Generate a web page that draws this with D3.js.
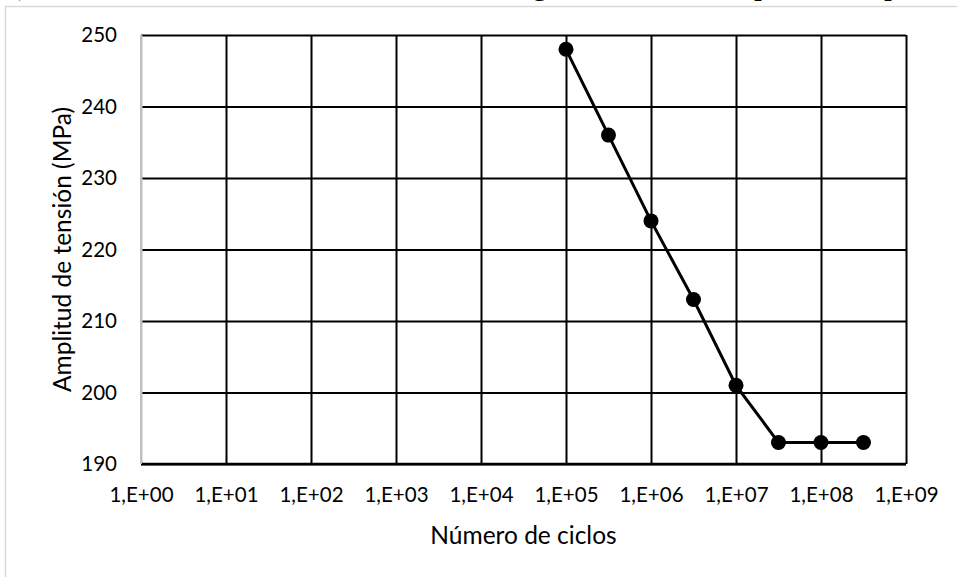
<!DOCTYPE html>
<html>
<head>
<meta charset="utf-8">
<script src="https://cdn.jsdelivr.net/npm/d3@7"></script>
<style>
  html, body { margin: 0; padding: 0; background: #fff; }
  svg { display: block; }
  .tick_txt { font-family: Lato, "Open Sans", sans-serif; font-size: 20.5px; fill: #000; }
  .title_txt { font-family: Lato, "Open Sans", sans-serif; font-size: 24.5px; fill: #000; }
  .doc_txt { font-family: "Liberation Serif", "DejaVu Serif", serif; font-size: 32px; fill: #000; }
</style>
</head>
<body>
<svg id="chart"></svg>
<script>
// board size
var svg_w = 957, svg_h = 577;
var pad_left = 141, pad_right = 51, pad_top = 35, pad_bottom = 113;

// data
var cycles = [1e5, 3.16e5, 1e6, 3.16e6, 1e7, 3.16e7, 1e8, 3.16e8];
var stress = [248, 236, 224, 213, 201, 193, 193, 193];

// ticks
var x_ticks = [1e0, 1e1, 1e2, 1e3, 1e4, 1e5, 1e6, 1e7, 1e8, 1e9];
var x_tick_labels = ["1,E+00", "1,E+01", "1,E+02", "1,E+03", "1,E+04",
                     "1,E+05", "1,E+06", "1,E+07", "1,E+08", "1,E+09"];
var y_ticks = [190, 200, 210, 220, 230, 240, 250];

var x_title = "Número de ciclos";
var y_title = "Amplitud de tensión (MPa)";

var svg = d3.select("#chart").attr("width", svg_w).attr("height", svg_h);

// bits of the document text cut off above the chart
var doc_bits = [{x: 18, t: "),"}, {x: 532, t: "g"}, {x: 738, t: ", p"}, {x: 884, t: "p"}];
svg.append("g").selectAll("text").data(doc_bits).enter()
  .append("text").attr("class", "doc_txt")
  .attr("x", function(d){ return d.x; }).attr("y", -6)
  .text(function(d){ return d.t; });

// chart area border (Excel style)
svg.append("rect").attr("x", 5.5).attr("y", 6.5)
  .attr("width", svg_w + 20).attr("height", svg_h + 20)
  .attr("fill", "none").attr("stroke", "#d9d9d9").attr("stroke-width", 1.5);

var x_scale = d3.scaleLog().domain([1e0, 1e9]).range([pad_left, svg_w - pad_right]);
var y_scale = d3.scaleLinear().domain([190, 250]).range([svg_h - pad_bottom, pad_top]);

// y grid + labels
var y_axis = d3.axisLeft(y_scale).tickValues(y_ticks)
  .tickSize(-(svg_w - pad_left - pad_right)).tickPadding(24)
  .tickFormat(d3.format("d"));
var yg = svg.append("g").attr("id", "y_axis")
  .attr("transform", "translate(" + pad_left + ",0)").call(y_axis);
yg.select(".domain").remove();
yg.selectAll(".tick line").attr("stroke", "#000").attr("stroke-width", 2);
yg.selectAll(".tick text").attr("class", "tick_txt").attr("font-size", null).attr("font-family", null);

// x grid + labels
var x_axis = d3.axisBottom(x_scale).tickValues(x_ticks)
  .tickSize(-(svg_h - pad_top - pad_bottom)).tickPadding(23)
  .tickFormat(function(d, i){ return x_tick_labels[i]; });
var xg = svg.append("g").attr("class", "x_axis")
  .attr("transform", "translate(0," + (svg_h - pad_bottom) + ")").call(x_axis);
xg.select(".domain").remove();
xg.selectAll(".tick line").attr("stroke", "#000").attr("stroke-width", 2);
xg.selectAll(".tick text").attr("class", "tick_txt").attr("font-size", null).attr("font-family", null);
// first vertical line is the y axis: grey in the original
xg.selectAll(".tick line").filter(function(d){ return d === 1e0; })
  .attr("stroke", "#bfbfbf");
// bottom axis line
svg.append("line")
  .attr("x1", x_scale(1e0)).attr("x2", x_scale(1e9))
  .attr("y1", y_scale(190)).attr("y2", y_scale(190))
  .attr("stroke", "#000").attr("stroke-width", 2.5);
svg.append("line")
  .attr("x1", x_scale(1e0)).attr("x2", x_scale(1e0))
  .attr("y1", y_scale(250)).attr("y2", y_scale(190))
  .attr("stroke", "#bfbfbf").attr("stroke-width", 2);

// series
var pts = cycles.map(function(c, i){ return {x: c, y: stress[i]}; });
var line = d3.line().x(function(d){ return x_scale(d.x); }).y(function(d){ return y_scale(d.y); });
svg.append("path").datum(pts).attr("d", line)
  .attr("fill", "none").attr("stroke", "#000").attr("stroke-width", 3);
svg.append("g").selectAll("circle").data(pts).enter()
  .append("circle")
  .attr("cx", function(d){ return x_scale(d.x); })
  .attr("cy", function(d){ return y_scale(d.y); })
  .attr("r", 7.5).attr("fill", "#000");

// titles
svg.append("text").attr("class", "title_txt")
  .attr("x", (pad_left + svg_w - pad_right) / 2).attr("y", 544)
  .attr("text-anchor", "middle").text(x_title);
svg.append("text").attr("class", "title_txt")
  .attr("transform", "translate(71," + ((pad_top + svg_h - pad_bottom) / 2) + ") rotate(-90)")
  .attr("text-anchor", "middle").text(y_title);
</script>
</body>
</html>
